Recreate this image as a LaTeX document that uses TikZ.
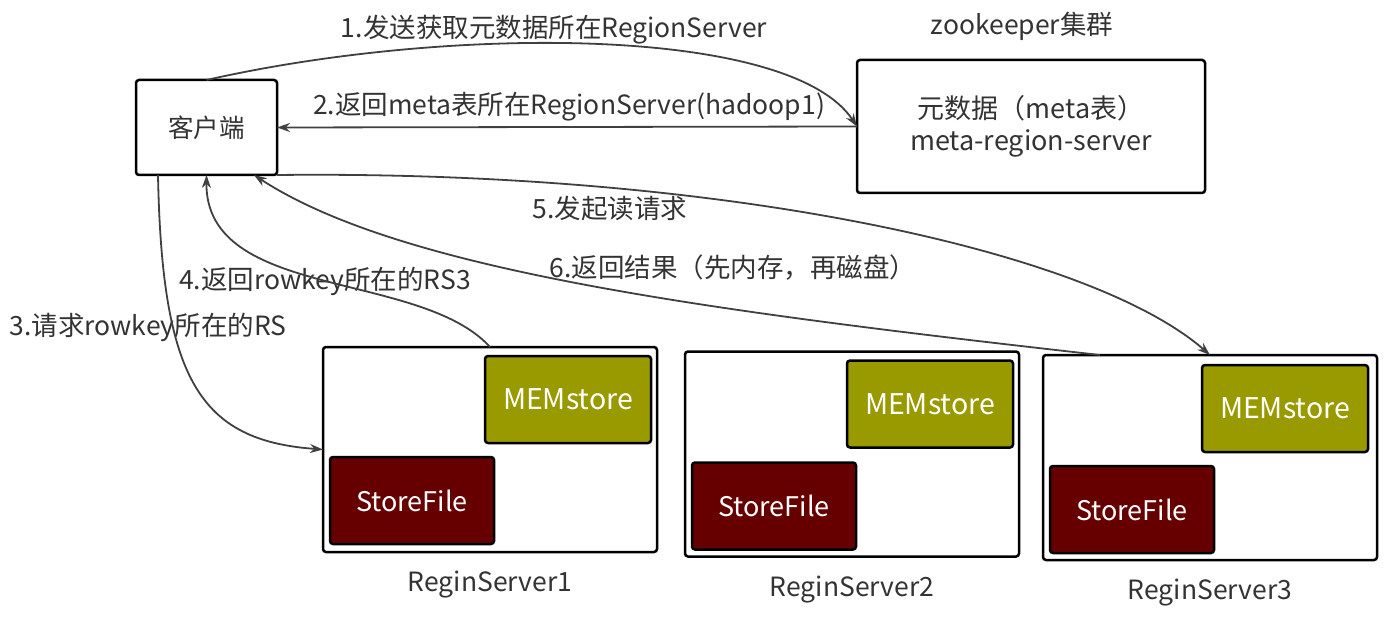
\documentclass[tikz,border=0pt]{standalone}
\usepackage{fontspec}
\setmainfont{Noto Sans CJK SC}
\usepackage{tikz}
\usetikzlibrary{arrows.meta,positioning}

\definecolor{memfill}{HTML}{999900}
\definecolor{filefill}{HTML}{660000}
\definecolor{linkgray}{HTML}{404040}
\definecolor{txtgray}{HTML}{333333}

\begin{document}
\begin{tikzpicture}[x=1pt,y=-1pt,>={Stealth[length=13pt,width=9pt]},
                    every node/.style={font=\fontsize{26.5}{31}\selectfont,text=txtgray,outer sep=0pt}]
  \tikzstyle{box}=[draw=black,line width=2.5pt,rounded corners=3pt,fill=white,align=center]
  \tikzstyle{server}=[box,minimum width=334pt,minimum height=205pt]
  \tikzstyle{memstore}=[box,fill=memfill,text=white,minimum width=166pt,minimum height=87pt,
                        font=\fontsize{28.5}{32}\selectfont]
  \tikzstyle{storefile}=[box,fill=filefill,text=white,minimum width=164pt,minimum height=87pt,
                         font=\fontsize{27}{32}\selectfont]
  \tikzstyle{link}=[->,draw=linkgray,line width=1.8pt]

  \useasboundingbox (0,0) rectangle (1389,620);

  \node[box,minimum width=141pt,minimum height=95pt,font=\fontsize{25.5}{30}\selectfont]
       (client) at (206.5,127.5) {客户端};
  \node[box,minimum width=348pt,minimum height=133pt,font=\fontsize{27}{32}\selectfont]
       (zoo) at (1031,126.5) {元数据（meta表）\\meta-region-server};
  \node (zootitle) [above=16pt of zoo,xshift=-9pt] {zookeeper集群};

  \node[server] (rs1) at (490,449.5) {};
  \node[server] (rs2) at (852,454)   {};
  \node[server] (rs3) at (1210,457.5) {};

  \node[memstore]  (mem1) [below left=9pt and 6pt of rs1.north east]  {MEMstore};
  \node[storefile] (sf1)  [above right=8pt and 7pt of rs1.south west] {StoreFile};
  \node[memstore]  (mem2) [below left=9pt and 6pt of rs2.north east]  {MEMstore};
  \node[storefile] (sf2)  [above right=7pt and 7pt of rs2.south west] {StoreFile};
  \node[memstore]  (mem3) [below left=10pt and 9pt of rs3.north east] {MEMstore};
  \node[storefile] (sf3)  [above right=7pt and 7pt of rs3.south west] {StoreFile};

  \node (rs1name) [below=16pt of rs1] {ReginServer1};
  \node (rs2name) [below=16pt of rs2] {ReginServer2};
  \node (rs3name) [below=16pt of rs3] {ReginServer3};

  % step labels
  \node (lbl1) at (554,30)  {1.发送获取元数据所在RegionServer};
  \node (lbl2) at (569,107) {2.返回meta表所在RegionServer(hadoop1)};
  \node (lbl3) at (148,327) {3.请求rowkey所在的RS};
  \node (lbl4) at (325,281) {4.返回rowkey所在的RS3};
  \node (lbl5) at (610,208) {5.发起读请求};
  \node (lbl6) at (733,268) {6.返回结果（先内存，再磁盘）};

  \draw[link] (client.north) .. controls +(243,-55) and +(-67,-101) .. (zoo.west);
  \draw[link] (zoo.west) -- (client.east);
  \draw[link] ([xshift=22pt]client.south west) .. controls +(4,205) and +(-123,-9) .. (rs1.west);
  \draw[link] (rs1.north) .. controls +(-70,-77) and +(-1,125) .. (client.south);
  \draw[link] (client.south east) .. controls +(443,-5) and +(-120,-105) .. (rs3.north);
  \draw[link] ([xshift=57pt]rs3.north west) .. controls +(-400,-45) and +(146,95)
              .. ([xshift=-23pt]client.south east);
\end{tikzpicture}
\end{document}
